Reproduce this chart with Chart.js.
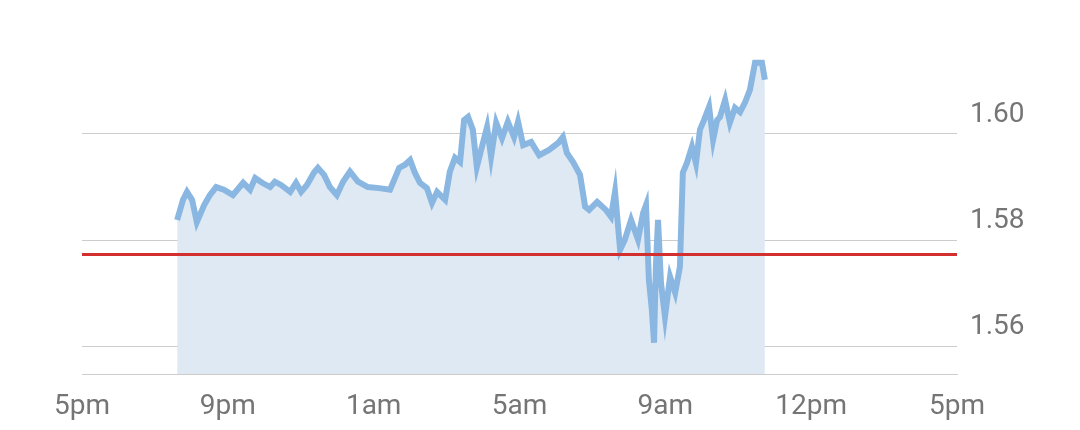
<!DOCTYPE html>
<html>
<head>
<meta charset="utf-8">
<script src="https://cdn.jsdelivr.net/npm/chart.js@4/dist/chart.umd.min.js"></script>
<style>
  html, body { margin: 0; padding: 0; background: #fff; }
  #wrap { width: 1080px; height: 430px; }
</style>
</head>
<body>
<div id="wrap"><canvas id="rateChart"></canvas></div>
<script>
// hours after 5pm (axis position) and the rate
const hours = [
  2.61, 2.77, 2.88, 3.02, 3.15, 3.35, 3.51, 3.68, 3.89, 4.14,
  4.42, 4.61, 4.75, 4.94, 5.16, 5.29, 5.46, 5.71, 5.87, 6.01,
  6.17, 6.36, 6.47, 6.64, 6.80, 6.99, 7.16, 7.35, 7.57, 7.84,
  8.15, 8.45, 8.70, 8.86, 9.00, 9.13, 9.27, 9.46, 9.60, 9.74,
  9.96, 10.09, 10.23, 10.37, 10.48, 10.59, 10.72, 10.83, 10.97, 11.11,
  11.22, 11.36, 11.52, 11.68, 11.85, 11.96, 12.10, 12.32, 12.54, 12.81,
  13.06, 13.19, 13.30, 13.47, 13.66, 13.80, 13.91, 14.13, 14.37, 14.51,
  14.62, 14.76, 14.89, 15.06, 15.25, 15.39, 15.47, 15.55, 15.63, 15.69,
  15.74, 15.80, 15.88, 15.99, 16.13, 16.27, 16.40, 16.48, 16.59, 16.73,
  16.84, 16.95, 17.06, 17.20, 17.31, 17.42, 17.50, 17.64, 17.77, 17.91,
  18.05, 18.19, 18.32, 18.46, 18.65, 18.73
];
const rates = [
  1.5838, 1.5876, 1.5891, 1.5876, 1.5834, 1.5866, 1.5885, 1.5900, 1.5895, 1.5885,
  1.5908, 1.5895, 1.5917, 1.5908, 1.5900, 1.5910, 1.5904, 1.5891, 1.5908, 1.5891,
  1.5904, 1.5927, 1.5936, 1.5923, 1.5900, 1.5885, 1.5910, 1.5929, 1.5910, 1.5900,
  1.5898, 1.5895, 1.5936, 1.5942, 1.5951, 1.5927, 1.5908, 1.5898, 1.5870, 1.5891,
  1.5876, 1.5929, 1.5955, 1.5947, 1.6026, 1.6032, 1.6008, 1.5938, 1.5976, 1.6013,
  1.5957, 1.6021, 1.5992, 1.6023, 1.5994, 1.6023, 1.5979, 1.5985, 1.5960, 1.5970,
  1.5983, 1.5994, 1.5964, 1.5947, 1.5923, 1.5863, 1.5857, 1.5872, 1.5857, 1.5844,
  1.5891, 1.5782, 1.5801, 1.5838, 1.5801, 1.5851, 1.5866, 1.5725, 1.5669, 1.5607,
  1.5750, 1.5838, 1.5720, 1.5656, 1.5731, 1.5701, 1.5750, 1.5927, 1.5945, 1.5976,
  1.5945, 1.6008, 1.6026, 1.6051, 1.5989, 1.6026, 1.6032, 1.6064, 1.6021, 1.6049,
  1.6041, 1.6060, 1.6083, 1.6134, 1.6134, 1.6102
];
const prevClose = 1.5773;

const xTicks = [0, 4, 8, 12, 16, 20, 24];
const xLabels = ['5pm', '9pm', '1am', '5am', '9am', '12pm', '5pm'];
const yTicks = [1.56, 1.58, 1.60];

const ctx = document.getElementById('rateChart').getContext('2d');

new Chart(ctx, {
  type: 'line',
  data: {
    datasets: [
      {
        data: [{ x: 0, y: prevClose }, { x: 24, y: prevClose }],
        borderColor: '#d32f2f',
        borderWidth: 3,
        pointRadius: 0,
        fill: false,
        order: 0
      },
      {
        data: hours.map((h, i) => ({ x: h, y: rates[i] })),
        borderColor: '#8ab7e1',
        backgroundColor: 'rgb(222,233,244)',
        borderWidth: 6,
        pointRadius: 0,
        tension: 0,
        fill: 'start',
        order: 1
      }
    ]
  },
  options: {
    responsive: true,
    maintainAspectRatio: false,
    animation: false,
    layout: { padding: { left: 82, top: 0, right: 0, bottom: 0 } },
    plugins: { legend: { display: false }, tooltip: { enabled: false } },
    scales: {
      x: {
        type: 'linear',
        min: 0,
        max: 24,
        afterBuildTicks: s => { s.ticks = xTicks.map(v => ({ value: v })); },
        afterFit: s => { s.height = 56; },
        grid: { display: false },
        border: { display: true, color: '#cccccc', width: 1 },
        ticks: {
          callback: (v) => xLabels[xTicks.indexOf(v)],
          color: '#757575',
          font: { family: 'Roboto', size: 28 },
          padding: 8,
          maxRotation: 0
        }
      },
      y: {
        position: 'right',
        min: 1.55481,
        max: 1.62521,
        afterBuildTicks: s => { s.ticks = yTicks.map(v => ({ value: v })); },
        afterFit: s => { s.width = 123; s.paddingTop = 0; s.paddingBottom = 0; },
        grid: { color: '#cccccc', drawTicks: false },
        border: { display: false },
        ticks: {
          callback: v => v.toFixed(2),
          color: '#757575',
          font: { family: 'Roboto', size: 28 },
          padding: 13,
          labelOffset: -19
        }
      }
    }
  }
});
</script>
</body>
</html>
